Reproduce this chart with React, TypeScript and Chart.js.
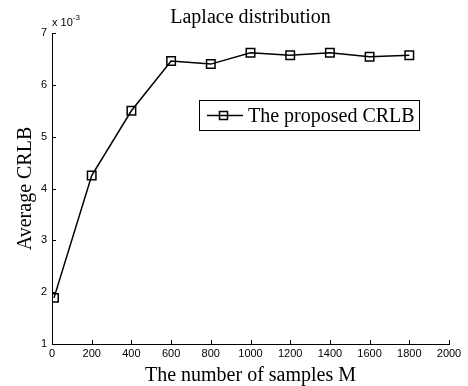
import React, { useEffect, useRef } from "react";
import { Chart, registerables } from "chart.js";

Chart.register(...registerables);

const samplesM = [10, 200, 400, 600, 800, 1000, 1200, 1400, 1600, 1800];
const averageCRLB = [1.89, 4.25, 5.5, 6.46, 6.4, 6.62, 6.57, 6.62, 6.54, 6.57];
const xTicks = [0, 200, 400, 600, 800, 1000, 1200, 1400, 1600, 1800, 2000];
const yTicks = [1, 2, 3, 4, 5, 6, 7];
const seriesLabel = "The proposed CRLB";
const titleText = "Laplace distribution";
const xLabel = "The number of samples M";
const yLabel = "Average CRLB";

const SERIF = '"Liberation Serif", "Times New Roman", serif';
const SANS = '"Liberation Sans", Arial, Helvetica, sans-serif';

const decorPlugin = {
  id: "decor",
  afterDraw(chart: any) {
    const ctx = chart.ctx;
    const area = chart.chartArea;
    const xs = chart.scales.x;
    const ys = chart.scales.y;
    ctx.save();
    // inward ticks
    ctx.strokeStyle = "#000";
    ctx.lineWidth = 1;
    ctx.beginPath();
    xTicks.forEach((v) => {
      const px = Math.round(xs.getPixelForValue(v)) + 0.5;
      ctx.moveTo(px, area.bottom);
      ctx.lineTo(px, area.bottom - 4);
    });
    yTicks.forEach((v) => {
      const py = Math.round(ys.getPixelForValue(v)) + 0.5;
      ctx.moveTo(area.left, py);
      ctx.lineTo(area.left + 4, py);
    });
    ctx.stroke();

    // exponent
    ctx.fillStyle = "#000";
    ctx.textBaseline = "alphabetic";
    ctx.textAlign = "left";
    ctx.font = "11px " + SANS;
    ctx.fillText("x 10", area.left, area.top - 7);
    const w = ctx.measureText("x 10").width;
    ctx.font = "8px " + SANS;
    ctx.fillText("-3", area.left + w, area.top - 13);

    // title
    const cx = (area.left + area.right) / 2;
    ctx.font = "20px " + SERIF;
    ctx.textAlign = "center";
    ctx.textBaseline = "alphabetic";
    ctx.fillText(titleText, cx, 23);

    // x label
    ctx.fillText(xLabel, cx, 381);

    // y label
    ctx.save();
    ctx.translate(31, (area.top + area.bottom) / 2);
    ctx.rotate(-Math.PI / 2);
    ctx.fillText(yLabel, 0, 0);
    ctx.restore();

    // legend
    const lx = 199.5, ly = 100.5, lw = 220, lh = 30;
    ctx.fillStyle = "#fff";
    ctx.fillRect(lx, ly, lw, lh);
    ctx.strokeStyle = "#000";
    ctx.lineWidth = 1;
    ctx.strokeRect(lx, ly, lw, lh);
    const my = 115.5;
    ctx.lineWidth = 1.5;
    ctx.beginPath();
    ctx.moveTo(207, my);
    ctx.lineTo(243, my);
    ctx.stroke();
    ctx.strokeRect(223.5 - 4, my - 4, 8, 8);
    ctx.fillStyle = "#000";
    ctx.textAlign = "left";
    ctx.font = "20px " + SERIF;
    ctx.fillText(seriesLabel, 248, 122);
    ctx.restore();
  },
};

export default function App() {
  const ref = useRef<HTMLCanvasElement | null>(null);
  useEffect(() => {
    if (!ref.current) return;
    const chart = new Chart(ref.current, {
      type: "line",
      data: {
        datasets: [
          {
            label: seriesLabel,
            data: samplesM.map((m, i) => ({ x: m, y: averageCRLB[i] })),
            borderColor: "#000",
            borderWidth: 1.5,
            backgroundColor: "rgba(0,0,0,0)",
            pointStyle: "rect",
            pointRadius: 6,
            pointHoverRadius: 6,
            pointBorderWidth: 1.5,
            pointBorderColor: "#000",
            pointBackgroundColor: "rgba(0,0,0,0)",
            tension: 0,
            fill: false,
          },
        ],
      },
      options: {
        animation: false,
        responsive: false,
        devicePixelRatio: 1,
        layout: { padding: { top: 33, left: 0, right: 19, bottom: 0 } },
        plugins: {
          legend: { display: false },
          title: { display: false },
          tooltip: { enabled: false },
        },
        scales: {
          x: {
            type: "linear",
            min: 0,
            max: 2000,
            afterFit: (s: any) => {
              s.height = 42;
            },
            afterBuildTicks: (s: any) => {
              s.ticks = xTicks.map((v) => ({ value: v }));
            },
            grid: { display: false, drawTicks: false },
            border: { display: true, color: "#000", width: 1 },
            ticks: {
              color: "#000",
              font: { family: SANS, size: 11 },
              padding: 3,
              maxRotation: 0,
              autoSkip: false,
              callback: (v: any) => String(v),
            },
          },
          y: {
            type: "linear",
            min: 1,
            max: 7,
            afterFit: (s: any) => {
              s.width = 52;
            },
            afterBuildTicks: (s: any) => {
              s.ticks = yTicks.map((v) => ({ value: v }));
            },
            grid: { display: false, drawTicks: false },
            border: { display: true, color: "#000", width: 1 },
            ticks: {
              color: "#000",
              font: { family: SANS, size: 11 },
              padding: 5,
              autoSkip: false,
              callback: (v: any) => String(v),
            },
          },
        },
      },
      plugins: [decorPlugin],
    });
    return () => chart.destroy();
  }, []);
  return (
    <div style={{ position: "fixed", left: 0, top: 0, width: 468, height: 386, background: "#fff" }}>
      <canvas ref={ref} width={468} height={386} style={{ width: 468, height: 386 }} />
    </div>
  );
}
